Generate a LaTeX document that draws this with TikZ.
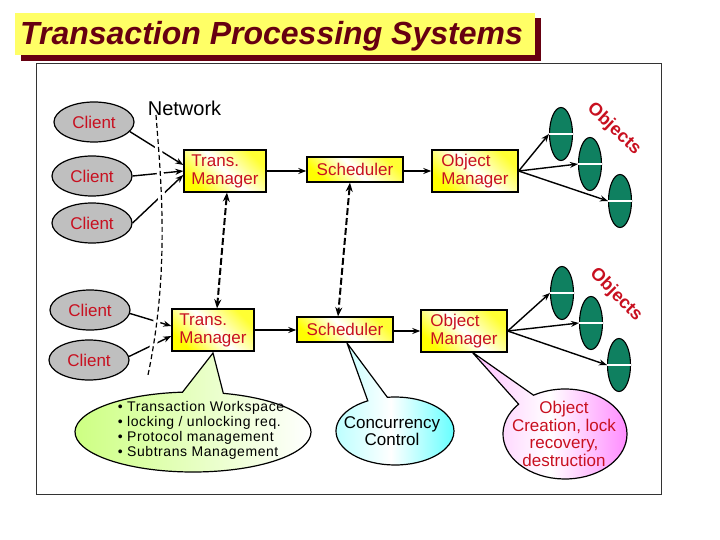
\documentclass[tikz,border=0pt]{standalone}
\usepackage{fontspec}
\setmainfont{Liberation Sans}
\newfontfamily\listfont[LetterSpace=4]{Liberation Sans}
\usetikzlibrary{arrows.meta, shapes.geometric, shapes.callouts}

\definecolor{titlered}{HTML}{660011}
\definecolor{labelred}{HTML}{C81020}
\definecolor{objgreen}{HTML}{0F8060}
\definecolor{titleyellow}{HTML}{FFFF66}

\tikzset{
    clientnode/.style={ellipse, draw, line width=1.2pt, fill=gray!50, minimum width=80pt, minimum height=40pt, inner sep=0pt, text=labelred, font=\fontsize{17}{17}\selectfont},
    mgrbox/.style={rectangle, draw, line width=1.4pt, inner sep=0pt, left color=yellow!80, right color=yellow, middle color=white, shading angle=-45, text=labelred, align=left, font=\fontsize{17}{18}\selectfont},
    objnode/.style={ellipse, draw, line width=1.1pt, fill=objgreen, minimum width=23pt, minimum height=53pt, inner sep=0pt},
    flow/.style={-{Stealth[length=8pt, width=6pt]}, line width=1.4pt},
    lockflow/.style={{Stealth[length=9pt, width=7pt]}-{Stealth[length=9pt, width=7pt]}, line width=2pt, dash pattern=on 7pt off 3pt},
    bubble/.style={ellipse callout, draw, line width=1.2pt, inner sep=0pt},
    objtext/.style={text=labelred, font=\fontsize{18}{18}\bfseries\selectfont}
}

\begin{document}
\begin{tikzpicture}[x=1pt, y=-1pt]
    \useasboundingbox (0, 0) rectangle (720, 540);

    % Title bar
    \fill[titlered] (21, 18) rectangle (541, 61);
    \fill[titleyellow] (15, 13) rectangle (535, 55);
    \node[text=titlered, font=\fontsize{32}{32}\bfseries\itshape\selectfont] (title) at (271.5, 36) {Transaction Processing Systems};

    % Frame
    \draw[black!80, line width=0.6pt] (36.5, 63.5) rectangle (661, 494);

    % Speech bubbles
    \node[bubble, minimum width=236pt, minimum height=80pt, left color=green!40!yellow!50, right color=white, callout absolute pointer={(213, 353)}, callout pointer arc=20] (workbubble) at (193, 432) {};
    \node[bubble, minimum width=118pt, minimum height=68pt, left color=cyan!30, right color=cyan!60, middle color=white, callout absolute pointer={(347, 343)}, callout pointer arc=20] (ccbubble) at (395, 431) {};
    \node[bubble, minimum width=124pt, minimum height=90pt, left color=magenta!25, right color=magenta!45, middle color=white, callout absolute pointer={(472, 352)}, callout pointer arc=18] (objbubble) at (565, 434) {};

    \node[align=left, font=\fontsize{14}{15}\listfont] (worktext) at (201, 430) {• Transaction Workspace\\• locking / unlocking req.\\• Protocol management\\• Subtrans Management};
    \node[align=center, font=\fontsize{17}{17}\selectfont] (cctext) at (392, 431) {Concurrency\\Control};
    \node[align=center, text=labelred, font=\fontsize{17}{17.5}\selectfont] (objtxt) at (564, 434) {Object\\Creation, lock\\recovery,\\destruction};

    % Clients
    \foreach \x/\y/\name in {
            94/122/client1,
            92/176/client2,
            92/223/client3,
            90/310/client4,
            89/360/client5} {
        \node[clientnode] (\name) at (\x, \y) {Client};
    }

    % Managers and schedulers
    \node[mgrbox, minimum width=82pt, minimum height=42pt] (tm1) at (225, 171) {Trans.\\Manager};
    \node[mgrbox, minimum width=96pt, minimum height=25pt] (sched1) at (355, 169.5) {Scheduler};
    \node[mgrbox, minimum width=86pt, minimum height=42pt] (om1) at (475, 171) {Object\\Manager};
    \node[mgrbox, minimum width=82pt, minimum height=42pt] (tm2) at (213, 330) {Trans.\\Manager};
    \node[mgrbox, minimum width=96pt, minimum height=25pt] (sched2) at (345, 329.5) {Scheduler};
    \node[mgrbox, minimum width=86pt, minimum height=42pt] (om2) at (464, 331) {Object\\Manager};

    % Objects
    \foreach \x/\y/\name in {
            561/134/obj1,
            590/164/obj2,
            620/201/obj3,
            562/293/obj4,
            591/323/obj5,
            619/365/obj6} {
        \node[objnode] (\name) at (\x, \y) {};
        \draw[white, line width=1.5pt] (\name.west) -- (\name.east);
    }
    \node[objtext, rotate=-43] (objlabel1) at (614, 129) {Objects};
    \node[objtext, rotate=-45] (objlabel2) at (616, 295) {Objects};

    % Client links
    \draw[flow] (client1.-15) -- ([yshift=6pt]tm1.west);
    \draw[flow] (client2.east) -- (tm1.west);
    \draw[flow] (client3.east) -- ([yshift=-4pt]tm1.west);
    \draw[flow] (client4.-5) -- ([yshift=4pt]tm2.west);
    \draw[flow] (client5.5) -- ([yshift=-6pt]tm2.west);

    % Network
    \draw[white, line width=7pt] (156, 115) .. controls (161, 180) and (170, 270) .. (148, 375);
    \draw[line width=1.2pt, dash pattern=on 5pt off 3pt] (156, 115) .. controls (161, 180) and (170, 270) .. (148, 375);
    \node[font=\fontsize{20}{20}\selectfont] (netlabel) at (184.5, 108) {Network};

    % Flow between boxes
    \draw[flow] (tm1.east) -- (sched1.west |- tm1.east);
    \draw[flow] (sched1.east |- om1.west) -- (om1.west);
    \draw[flow] (tm2.east) -- (sched2.west |- tm2.east);
    \draw[flow] (sched2.east |- om2.west) -- (om2.west);
    \draw[lockflow] ([xshift=2pt]tm1.south) -- ([xshift=4pt]tm2.north);
    \draw[lockflow] ([xshift=-5pt]sched1.south) -- ([xshift=-7pt]sched2.north);

    % Object links
    \foreach \from/\to in {
            om1/obj1,
            om1/obj2,
            om1/obj3,
            om2/obj4,
            om2/obj5,
            om2/obj6} {
        \draw[flow] (\from.east) -- (\to.west);
    }

\end{tikzpicture}
\end{document}
